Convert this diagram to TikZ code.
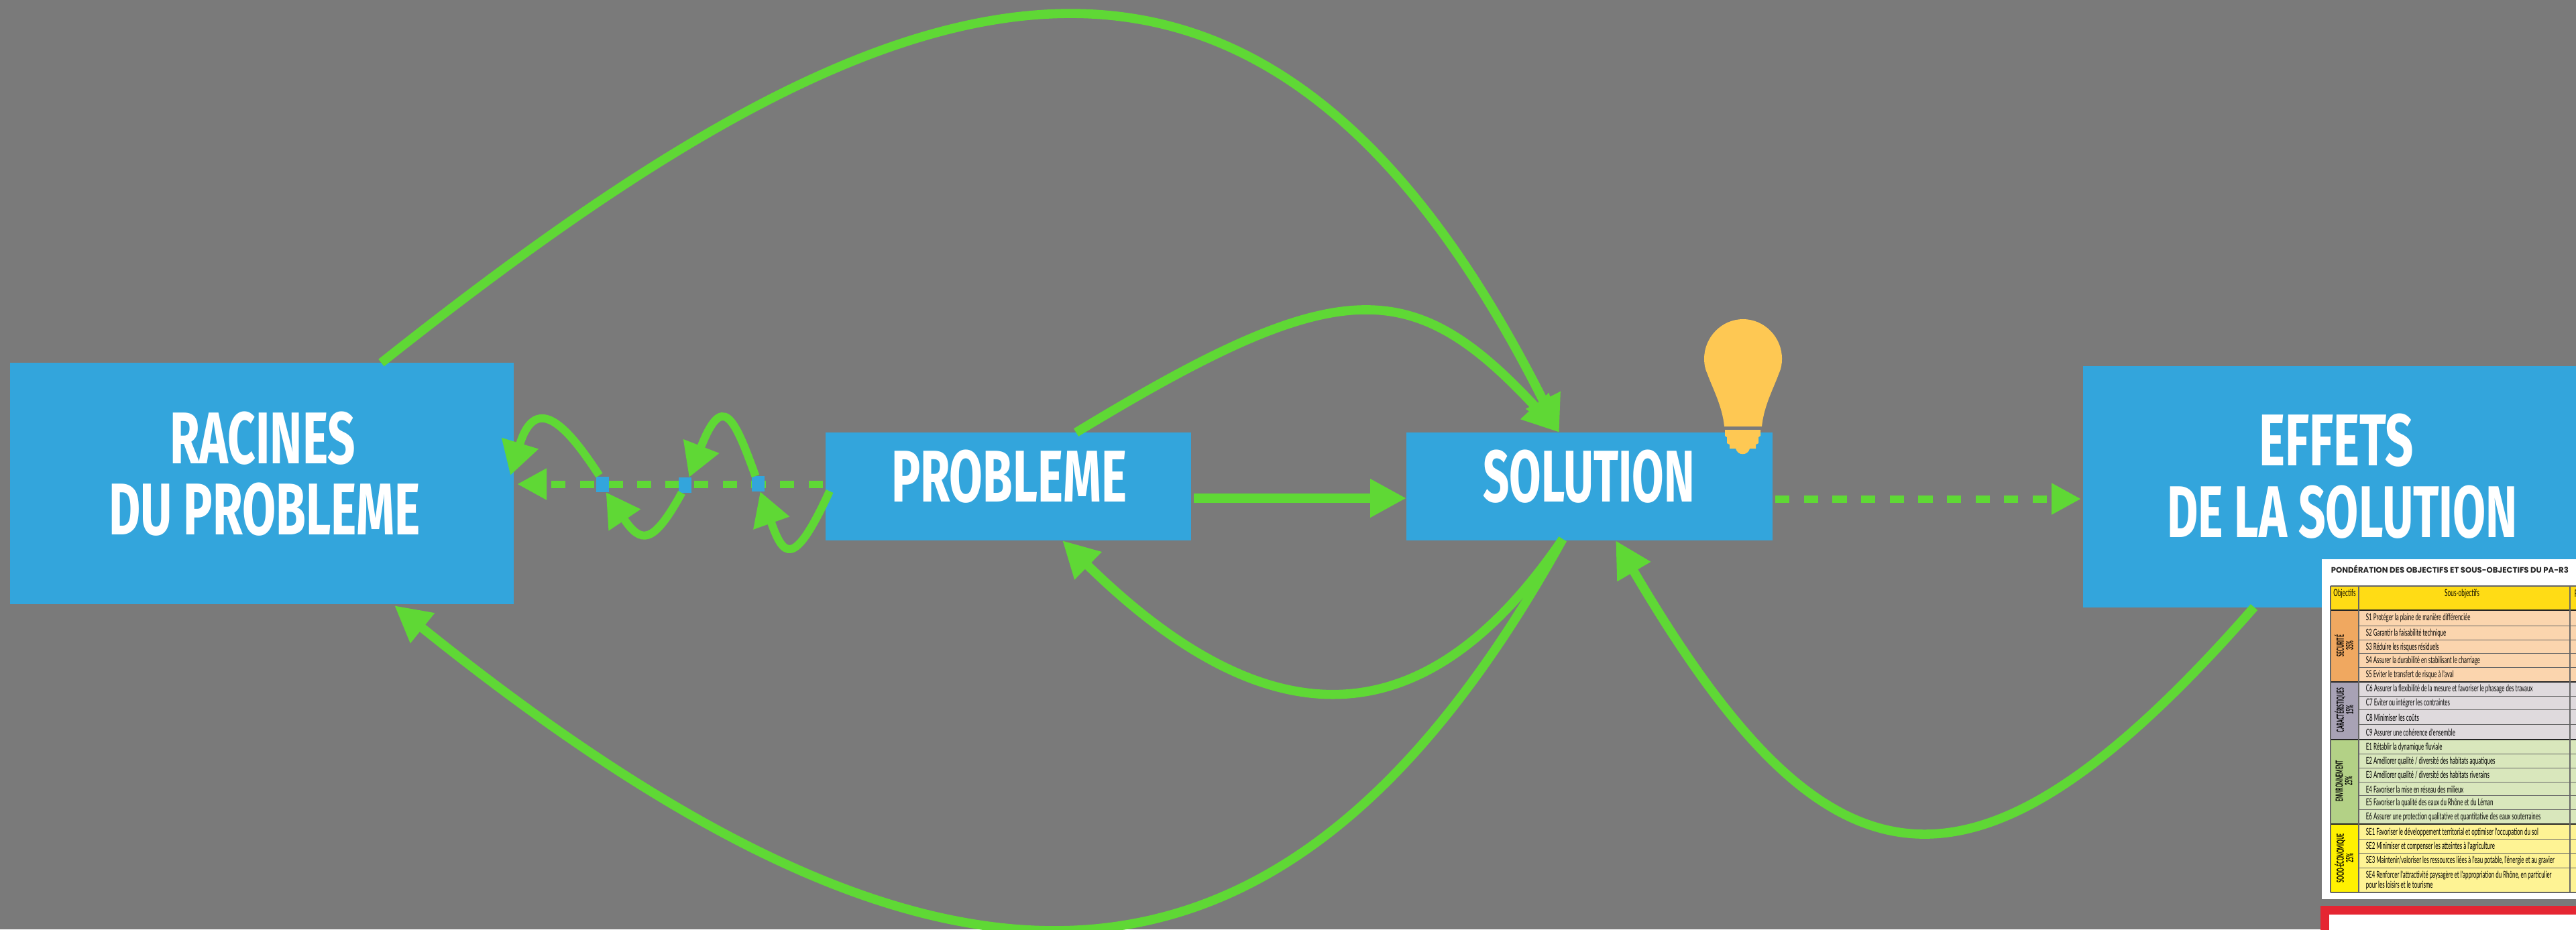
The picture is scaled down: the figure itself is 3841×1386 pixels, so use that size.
\documentclass[tikz,border=0pt]{standalone}
\usepackage{fontspec}
\usepackage{graphicx}
\usetikzlibrary{arrows.meta,calc}
\newfontfamily\boxfont{Fira Sans}
\newfontfamily\tabfont[FakeStretch=0.56]{Lato}
\newfontfamily\grpfont[FakeStretch=0.47]{Lato}
\newfontfamily\titfont{Poppins}
\definecolor{bgc}{HTML}{7A7A7A}
\definecolor{bluec}{HTML}{33A5DC}
\definecolor{greenc}{HTML}{5FD835}
\definecolor{bulbc}{HTML}{FEC853}
\definecolor{hdrc}{HTML}{FFDC15}
\definecolor{redc}{HTML}{E52632}
\definecolor{secL}{HTML}{FBD5AE}\definecolor{secG}{HTML}{F0A860}
\definecolor{carL}{HTML}{DFDADD}\definecolor{carG}{HTML}{A8A2B5}
\definecolor{envL}{HTML}{D9E7BC}\definecolor{envG}{HTML}{B3D186}
\definecolor{socL}{HTML}{FEF394}\definecolor{socG}{HTML}{FFF100}
\tikzset{
  bigbox/.style={fill=bluec,inner sep=0pt,outer sep=0pt},
  boxlabel/.style={anchor=base west,inner sep=0pt,outer sep=0pt,text=white,font=\boxfont\bfseries\fontsize{27}{27}\selectfont},
  flow/.style={draw=greenc,line width=3.4pt,-{Triangle[length=13.5pt,width=13.5pt,fill=greenc]}},
  flowsmall/.style={draw=greenc,line width=3pt,-{Triangle[length=12.5pt,width=13.5pt,fill=greenc]}},
  flowdash/.style={draw=greenc,line width=2.75pt,dash pattern=on 5.33pt off 5.33pt,-{Triangle[length=11pt,width=11pt,fill=greenc]}},
  hub/.style={fill=bluec,inner sep=0pt,outer sep=0pt,minimum width=4.75pt,minimum height=5.75pt},
  rowtxt/.style={anchor=west,inner sep=0pt,text=black,font=\tabfont\fontsize{3.55}{3.75}\selectfont,align=left},
  grouptxt/.style={rotate=90,inner sep=0pt,text=black,align=center,font=\grpfont\bfseries\fontsize{3.7}{3.5}\selectfont},
  headtxt/.style={inner sep=0pt,font=\tabfont\fontsize{3.7}{4}\selectfont,text=black},
  rowrule/.style={draw=black!60,line width=.33pt},
  grouprule/.style={draw=black!85,line width=.5pt}
}
% name, left px, right px, baseline px, text
\newcommand{\biglabel}[5]{%
  \node[boxlabel] (#1) at (#2,#4) {\resizebox{\dimexpr #3pt*1/4-#2pt*1/4\relax}{19.4pt}{#5}};
}
\newcommand{\tabrow}[5]{%
  \fill[#4] (3517,#2) rectangle (3845,#3);
  \draw[rowrule] (3517,#3) -- (3845,#3);
  \node[rowtxt] (#1) at (3527,{(#2+#3)/2}) {#5};
}
\begin{document}
\begin{tikzpicture}[x=0.25pt,y=-0.25pt]
\useasboundingbox (0,0) rectangle (3841,1386);
\clip (0,0) rectangle (3841,1386);
\fill[bgc] (0,0) rectangle (3841,1386);
% boxes
\node[bigbox,minimum width=187.75pt,minimum height=90pt] (rac) at (390.5,721) {};
\node[bigbox,minimum width=136.25pt,minimum height=40.25pt] (prob) at (1503.5,725.5) {};
\node[bigbox,minimum width=136.5pt,minimum height=40.25pt] (sol) at (2370,725.5) {};
\node[bigbox,minimum width=193pt,minimum height=90pt] (eff) at (3492,725.5) {};
\biglabel{rac1}{253}{530}{691}{RACINES}
\biglabel{rac2}{162}{627}{797}{DU PROBLEME}
\biglabel{prob1}{1329}{1680}{748}{PROBLEME}
\biglabel{sol1}{2211}{2527}{748}{SOLUTION}
\biglabel{eff1}{3368}{3599}{694}{EFFETS}
\biglabel{eff2}{3231}{3754}{801}{DE LA SOLUTION}
% dashed
\coordinate (dl) at ($(prob.west |- 0,722)+(-4,0)$);
\coordinate (dr) at ($(rac.east |- 0,722)+(5,0)$);
\draw[flowdash] (dl) -- (dr);
\draw[flowdash] ($(sol.east |- 0,744)+(4,0)$) -- ($(eff.west |- 0,744)+(-3,0)$);
% hubs
\node[hub] (h1) at (898.5,722.5) {};
\node[hub] (h2) at (1021.5,723.5) {};
\node[hub] (h3) at (1130.5,721.5) {};
\draw[flow] ($(prob.east |- 0,743)+(4,0)$) -- (sol.west |- 0,743);
% long curves
\draw[flow] ($(rac.north)+(178,0)$) .. controls (1300,-40) and (1860,-281) .. ($(sol.north)+(-45,0)$);
\draw[flow] ($(prob.north)+(101,0)$) .. controls (1995,408) and (2104,407) .. ($(sol.north)+(-45,0)$);
\draw[flow] ($(sol.south)+(-40,-2)$) .. controls (2130,1097) and (1899,1115) .. ($(prob.south)+(80.5,0)$);
\draw[flow] ($(sol.south)+(-40,-2)$) .. controls (1900,1580) and (1380,1540) .. ($(rac.south)+(197.5,2)$);
\draw[flow] ($(eff.south)+(-131,0)$) .. controls (2933,1394) and (2720,1335) .. ($(sol.south)+(39,0)$);
% small curves
\draw[flowsmall] ($(h1.north)+(-5,-2)$) .. controls (851,644) and (800,580) .. ($(rac.east)+(-5,-12)$);
\draw[flowsmall] ($(h3.north)+(-4,0)$) .. controls (1094,620) and (1077,585) .. ($(h2.north)+(6,0)$);
\draw[flowsmall] ($(h2.south)+(-5,0)$) .. controls (974,812) and (956,812) .. ($(h1.south)+(5,0)$);
\draw[flowsmall] ($(prob.west)+(6,7)$) .. controls (1183,850) and (1168,830) .. ($(h3.south)+(3,0)$);
% bulb
\fill[bulbc] (2571,636) .. controls (2568,605) and (2553,578) .. (2546,558)
  .. controls (2543,552) and (2541,544) .. (2541,535)
  .. controls (2541,503) and (2567,476) .. (2599,476)
  .. controls (2631,476) and (2657,503) .. (2657,535)
  .. controls (2657,544) and (2655,552) .. (2652,558)
  .. controls (2645,578) and (2630,605) .. (2627,636) -- cycle;
\fill[bulbc] (2572,641) -- (2625,641) -- (2625,650) -- (2622,652) -- (2622,661) -- (2618,663) -- (2618,669) -- (2609,669)
  .. controls (2606,680) and (2591,680) .. (2588,669) -- (2579,669) -- (2579,663) -- (2575,661) -- (2575,652) -- (2572,650) -- cycle;
% table panel
\fill[white] (3462,834) rectangle (3850,1341);
\node[anchor=west,inner sep=0pt,font=\titfont\bfseries\fontsize{2.93}{3}\selectfont,text=black!85] (ttl) at (3475,849) {PONDÉRATION DES OBJECTIFS ET SOUS-OBJECTIFS DU PA-R3};
\fill[hdrc] (3475,874) rectangle (3845,910);
\fill[secG] (3475,910) rectangle (3517,1017);
\fill[carG] (3475,1017) rectangle (3517,1103);
\fill[envG] (3475,1103) rectangle (3517,1229);
\fill[socG] (3475,1229) rectangle (3517,1331);
\tabrow{rs1}{910}{934}{secL}{S1 Protéger la plaine de manière différenciée}
\tabrow{rs2}{934}{955}{secL}{S2 Garantir la faisabilité technique}
\tabrow{rs3}{955}{975}{secL}{S3 Réduire les risques résiduels}
\tabrow{rs4}{975}{996}{secL}{S4 Assurer la durabilité en stabilisant le charriage}
\tabrow{rs5}{996}{1017}{secL}{S5 Eviter le transfert de risque à l'aval}
\tabrow{rc6}{1017}{1039}{carL}{C6 Assurer la flexibilité de la mesure et favoriser le phasage des travaux}
\tabrow{rc7}{1039}{1059}{carL}{C7 Eviter ou intégrer les contraintes}
\tabrow{rc8}{1059}{1081}{carL}{C8 Minimiser les coûts}
\tabrow{rc9}{1081}{1103}{carL}{C9 Assurer une cohérence d'ensemble}
\tabrow{re1}{1103}{1125}{envL}{E1 Rétablir la dynamique fluviale}
\tabrow{re2}{1125}{1146}{envL}{E2 Améliorer qualité / diversité des habitats aquatiques}
\tabrow{re3}{1146}{1167}{envL}{E3 Améliorer qualité / diversité des habitats riverains}
\tabrow{re4}{1167}{1187}{envL}{E4 Favoriser la mise en réseau des milieux}
\tabrow{re5}{1187}{1208}{envL}{E5 Favoriser la qualité des eaux du Rhône et du Léman}
\tabrow{re6}{1208}{1229}{envL}{E6 Assurer une protection qualitative et quantitative des eaux souterraines}
\tabrow{rse1}{1229}{1253}{socL}{SE1 Favoriser le développement territorial et optimiser l'occupation du sol}
\tabrow{rse2}{1253}{1273}{socL}{SE2 Minimiser et compenser les atteintes à l'agriculture}
\tabrow{rse3}{1273}{1295}{socL}{SE3 Maintenir/valoriser les ressources liées à l'eau potable, l'énergie et au gravier}
\tabrow{rse4}{1295}{1331}{socL}{SE4 Renforcer l'attractivité paysagère et l'appropriation du Rhône, en particulier\\pour les loisirs et le tourisme}
% rules
\draw[grouprule] (3475,910) -- (3845,910) (3475,1017) -- (3845,1017) (3475,1103) -- (3845,1103) (3475,1229) -- (3845,1229);
\draw[rowrule] (3475,874) -- (3845,874) (3475,1331) -- (3845,1331) (3475,874) -- (3475,1331) (3517,874) -- (3517,1331) (3832,874) -- (3832,1331);
% header text
\node[headtxt] (hobj) at (3496,885) {Objectifs};
\node[headtxt] (hsub) at (3671,885) {Sous-objectifs};
\node[headtxt,anchor=west] (hp) at (3838,885) {P};
% group text
\node[grouptxt] (gsec) at (3495,963) {SECURITÉ\\35\%};
\node[grouptxt] (gcar) at (3495,1059) {CARACTÉRISTIQUES\\15\%};
\node[grouptxt] (genv) at (3495,1165) {ENVIRONNEMENT\\25\%};
\node[grouptxt] (gsoc) at (3495,1280) {SOCIO-ÉCONOMIQUE\\25\%};
% red panel
\fill[redc] (3460,1351) rectangle (3850,1395);
\fill[white] (3473,1364) rectangle (3850,1395);
\end{tikzpicture}
\end{document}
